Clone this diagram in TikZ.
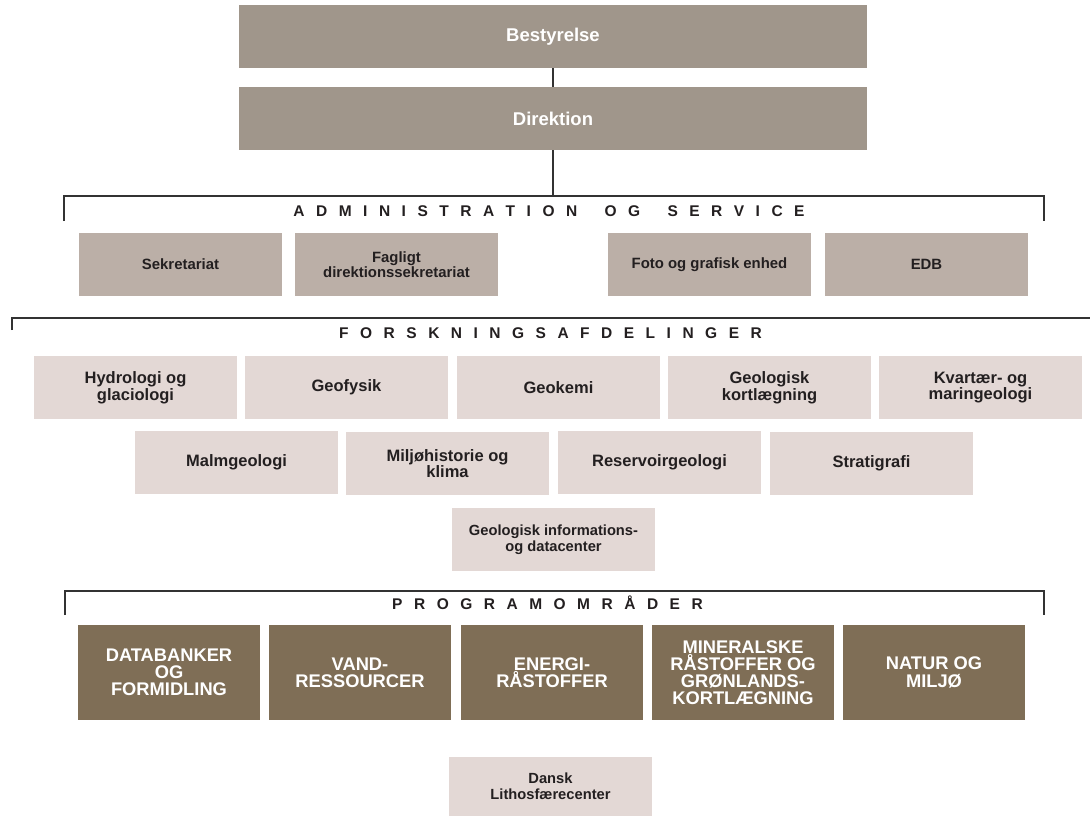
\documentclass[tikz,border=0pt]{standalone}
\usepackage{fontspec}
\setmainfont{Liberation Sans}
\definecolor{ctop}{HTML}{A0968B}
\definecolor{cadm}{HTML}{BBAFA7}
\definecolor{cfsk}{HTML}{E3D8D5}
\definecolor{cprg}{HTML}{7F6E56}
\definecolor{ctxt}{HTML}{231F20}
\definecolor{cline}{HTML}{333333}
\newlength\lsp
\setlength\lsp{11.5pt}
\def\lspaced#1{\lspacedi#1\relax}
\def\lspacedi#1{\ifx#1\relax\kern-\lsp\else#1\kern\lsp\expandafter\lspacedi\fi}
\tikzset{
  topbox/.style={fill=ctop, text=white, inner sep=0pt, minimum width=628pt, minimum height=63pt,
    font=\fontsize{18.5}{20}\selectfont\bfseries},
  admbox/.style={fill=cadm, text=ctxt, inner sep=0pt, minimum width=203pt, minimum height=63pt,
    align=center, font=\fontsize{14.9}{14.7}\selectfont\bfseries},
  fskbox/.style={fill=cfsk, text=ctxt, inner sep=0pt, minimum width=203pt, minimum height=63pt,
    align=center, font=\fontsize{16.5}{16.7}\selectfont\bfseries},
  smbox/.style={fill=cfsk, text=ctxt, inner sep=0pt, minimum width=203pt, minimum height=63pt,
    align=center, font=\fontsize{14.7}{16}\selectfont\bfseries},
  prgbox/.style={fill=cprg, text=white, inner sep=0pt, minimum width=182pt, minimum height=95pt,
    align=center, font=\fontsize{18.3}{17.2}\selectfont\bfseries},
  heading/.style={anchor=base, inner sep=0pt, text=ctxt, font=\fontsize{15.5}{16}\selectfont\bfseries},
  bracket/.style={draw=cline, line width=1.8pt, line join=miter},
  trunk/.style={draw=cline, line width=1.7pt}
}
\begin{document}
\begin{tikzpicture}[x=1pt,y=-1pt]
\useasboundingbox (0,0) rectangle (1090,816);
% top
\node[topbox] (best) at (553,36.5) {Bestyrelse};
\node[topbox] (dir) at (553,118.5) {Direktion};
\coordinate (admtop) at (553,196);
\draw[trunk] (best.south) -- (dir.north);
\draw[trunk] (dir.south) -- (admtop);
% administration
\draw[bracket] (64,221) -- (64,196) -- (1044,196) -- (1044,221);
\node[heading] (admh) at (549,216) {\lspaced{ADMINISTRATION~OG~SERVICE}};
\node[admbox] (sekr) at (180.5,264.5) {Sekretariat};
\node[admbox] (fagl) at (396.5,264.5) {Fagligt\\direktionssekretariat};
\node[admbox] (foto) at (709.5,264.5) {Foto og grafisk enhed};
\node[admbox] (edb) at (926.5,264.5) {EDB};
% forskning
\draw[bracket] (12,330) -- (12,318) -- (1092,318);
\node[heading] (fskh) at (550.5,338.3) {\lspaced{FORSKNINGSAFDELINGER}};
\node[fskbox] (hydro) at (135.5,387.5) {Hydrologi og\\glaciologi};
\node[fskbox] (geofys) at (346.5,387.5) {Geofysik};
\node[fskbox] (geokem) at (558.5,387.5) {Geokemi};
\node[fskbox] (geolk) at (769.5,387.5) {Geologisk\\kortlægning};
\node[fskbox] (kvart) at (980.5,387.5) {Kvartær- og\\maringeologi};
\node[fskbox] (malm) at (236.5,462.5) {Malmgeologi};
\node[fskbox] (miljo) at (447.5,463.5) {Miljøhistorie og\\klima};
\node[fskbox] (reserv) at (659.5,462.5) {Reservoirgeologi};
\node[fskbox] (strat) at (871.5,463) {Stratigrafi};
\node[smbox] (gidc) at (553.5,539.5) {Geologisk informations-\\og datacenter};
% programomraader
\draw[bracket] (65,615) -- (65,591) -- (1044,591) -- (1044,615);
\node[heading] (prgh) at (547.5,609.3) {\lspaced{PROGRAMOMRÅDER}};
\node[prgbox] (datab) at (169,672.5) {DATABANKER\\OG\\FORMIDLING};
\node[prgbox] (vand) at (360,672.5) {VAND-\\RESSOURCER};
\node[prgbox] (energi) at (552,672.5) {ENERGI-\\RÅSTOFFER};
\node[prgbox] (miner) at (743,672.5) {MINERALSKE\\RÅSTOFFER OG\\GRØNLANDS-\\KORTLÆGNING};
\node[prgbox] (natur) at (934,672.5) {NATUR OG\\MILJØ};
\node[smbox, minimum height=59pt] (dansk) at (550.5,786.5) {Dansk\\Lithosfærecenter};
\end{tikzpicture}
\end{document}
